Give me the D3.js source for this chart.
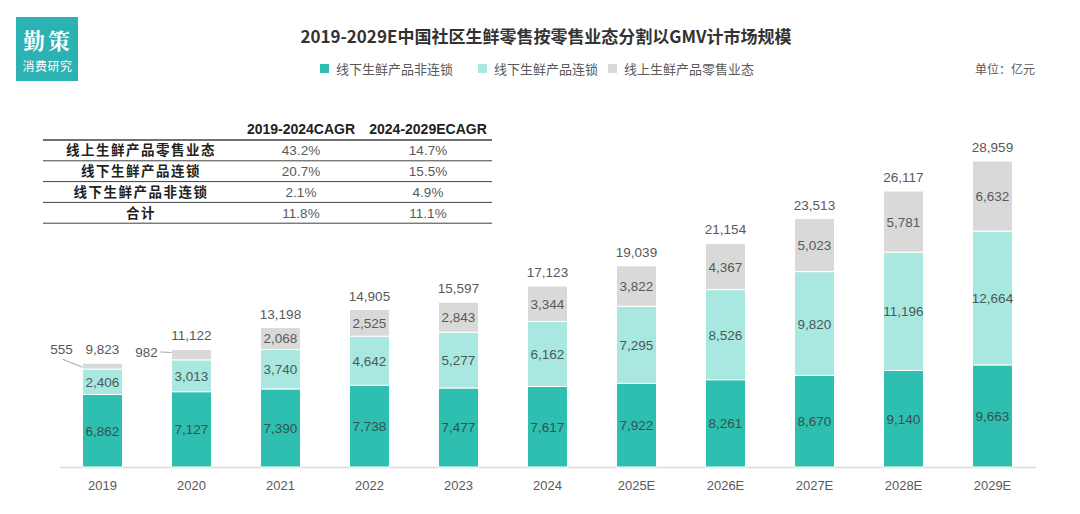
<!DOCTYPE html>
<html><head><meta charset="utf-8">
<script src="https://cdn.jsdelivr.net/npm/d3@7"></script>
<style>
body{margin:0;background:#fff;}
svg{display:block;font-family:"Liberation Sans","Noto Sans CJK SC",sans-serif;}
</style></head>
<body>
<svg id="c" width="1080" height="514"></svg>
<script>
const years = ["2019","2020","2021","2022","2023","2024","2025E","2026E","2027E","2028E","2029E"];
const offlineNonChain = [6862,7127,7390,7738,7477,7617,7922,8261,8670,9140,9663];
const offlineChain = [2406,3013,3740,4642,5277,6162,7295,8526,9820,11196,12664];
const online = [555,982,2068,2525,2843,3344,3822,4367,5023,5781,6632];
const totals = [9823,11122,13198,14905,15597,17123,19039,21154,23513,26117,28959];
const seriesNames = ["线下生鲜产品非连锁","线下生鲜产品连锁","线上生鲜产品零售业态"];
const colors = ["#2EBFB1","#A8E8E0","#D9D9D9"];
const tableHeaders = ["2019-2024CAGR","2024-2029ECAGR"];
const tableRows = ["线上生鲜产品零售业态","线下生鲜产品连锁","线下生鲜产品非连锁","合计"];
const cagr1 = ["43.2%","20.7%","2.1%","11.8%"];
const cagr2 = ["14.7%","15.5%","4.9%","11.1%"];

const svg = d3.select("#c");
const fmt = d3.format(",");
const CJK = "'Noto Sans CJK SC',sans-serif";

// logo
svg.append("rect").attr("x",16).attr("y",17).attr("width",62).attr("height",64).attr("fill","#2DB2B4");
svg.append("text").attr("x",48).attr("y",49).attr("text-anchor","middle").attr("fill","#fff")
  .style("font-family","'Noto Serif CJK SC','Noto Sans CJK SC',serif").style("font-size","22px").style("font-weight","bold").style("letter-spacing","3px").text("勤策");
svg.append("text").attr("x",47.5).attr("y",71).attr("text-anchor","middle").attr("fill","#fff")
  .style("font-family",CJK).style("font-size","12px").style("letter-spacing","0.5px").text("消费研究");

// title
svg.append("text").attr("x",546).attr("y",43).attr("text-anchor","middle").attr("fill","#333")
  .style("font-family",CJK).style("font-size","17px").style("font-weight","bold")
  .text("2019-2029E中国社区生鲜零售按零售业态分割以GMV计市场规模");

// legend
const legX = [320,478,608];
seriesNames.forEach((n,i)=>{
  svg.append("rect").attr("x",legX[i]).attr("y",64).attr("width",9).attr("height",9).attr("fill",colors[i]);
  svg.append("text").attr("x",legX[i]+16).attr("y",73.5).attr("fill","#595959")
    .style("font-family",CJK).style("font-size","13px").text(n);
});
svg.append("text").attr("x",1035).attr("y",73.5).attr("text-anchor","end").attr("fill","#595959")
  .style("font-family",CJK).style("font-size","12px").text("单位：亿元");

// scales
const x = d3.scaleBand().domain(years).range([58,1037]).paddingInner(0.55).paddingOuter(0.275);
const y = d3.scaleLinear().domain([0,d3.max(totals)]).range([467,161]);

const stackData = years.map((yr,i)=>({year:yr,a:offlineNonChain[i],b:offlineChain[i],c:online[i]}));
const stack = d3.stack().keys(["a","b","c"])(stackData);

// axis
const ax = svg.append("g").attr("transform","translate(0,467)").call(d3.axisBottom(x).tickSize(0).tickPadding(14));
ax.select(".domain").attr("stroke","#D9D9D9").attr("stroke-width",1.5).attr("d","M60,0.5H1036");
ax.selectAll("text").attr("fill","#595959").style("font-size","13px").style("font-family","'Liberation Sans',sans-serif");

// bars
stack.forEach((layer,li)=>{
  svg.append("g").selectAll("rect").data(layer).join("rect")
    .attr("x",d=>x(d.data.year)).attr("width",x.bandwidth())
    .attr("y",d=>y(d[1])).attr("height",d=>y(d[0])-y(d[1]))
    .attr("fill",colors[li]).attr("stroke","#fff").attr("stroke-width",1);
});

// segment labels
const labelColors = ["#35524F","#4A5A58","#595959"];
stack.forEach((layer,li)=>{
  layer.forEach((d,i)=>{
    const cx = x(d.data.year)+x.bandwidth()/2;
    const val = d[1]-d[0];
    if(li===2 && i<2) return;
    svg.append("text").attr("x",cx).attr("y",(y(d[0])+y(d[1]))/2+5)
      .attr("text-anchor","middle").attr("fill",labelColors[li])
      .style("font-size","13.5px").text(fmt(val));
  });
});
// outside labels for small online values (2019, 2020)
[[0,-21,-9],[1,-25,7.5]].forEach(([i,dx,dy])=>{
  const d = stack[2][i];
  const bx = x(d.data.year);
  const ty = y(d[1]);
  const lx = bx+dx, ly = ty+dy;
  svg.append("text").attr("x",lx).attr("y",ly).attr("text-anchor","middle").attr("fill","#595959")
    .style("font-size","13.5px").text(fmt(online[i]));
  if(i===0){
    svg.append("line").attr("x1",lx+1).attr("y1",ly+5).attr("x2",bx).attr("y2",ty+4).attr("stroke","#8C8C8C").attr("stroke-width",0.8);
  } else {
    svg.append("line").attr("x1",lx+14).attr("y1",ly-5).attr("x2",bx).attr("y2",ty+3).attr("stroke","#8C8C8C").attr("stroke-width",0.8);
  }
});

// totals
svg.append("g").selectAll("text").data(years).join("text")
  .attr("x",d=>x(d)+x.bandwidth()/2).attr("y",(d,i)=>y(totals[i])-9)
  .attr("text-anchor","middle").attr("fill","#595959").style("font-size","13.5px")
  .text((d,i)=>fmt(totals[i]));

// table
const tX0 = 43, tX1 = 492, colC = [141,301,428];
const tTop = 140, rowH = 20.8;
tableHeaders.forEach((h,j)=>{
  svg.append("text").attr("x",colC[j+1]).attr("y",134).attr("text-anchor","middle").attr("fill","#222")
    .style("font-size","14px").style("font-weight","bold").text(h);
});
svg.append("line").attr("x1",tX0).attr("x2",tX1).attr("y1",tTop).attr("y2",tTop).attr("stroke","#404040").attr("stroke-width",1.5);
tableRows.forEach((r,i)=>{
  const yc = tTop + rowH*i + rowH/2;
  svg.append("text").attr("x",colC[0]).attr("y",yc+5).attr("text-anchor","middle").attr("fill","#222")
    .style("font-family",CJK).style("font-size","13.5px").style("font-weight","bold").style("letter-spacing","1.5px").text(r);
  svg.append("text").attr("x",colC[1]).attr("y",yc+5).attr("text-anchor","middle").attr("fill","#595959")
    .style("font-size","13.5px").text(cagr1[i]);
  svg.append("text").attr("x",colC[2]).attr("y",yc+5).attr("text-anchor","middle").attr("fill","#595959")
    .style("font-size","13.5px").text(cagr2[i]);
  const ly = tTop + rowH*(i+1);
  svg.append("line").attr("x1",tX0).attr("x2",tX1).attr("y1",ly).attr("y2",ly).attr("stroke","#404040").attr("stroke-width",1);
});
</script>
</body></html>
